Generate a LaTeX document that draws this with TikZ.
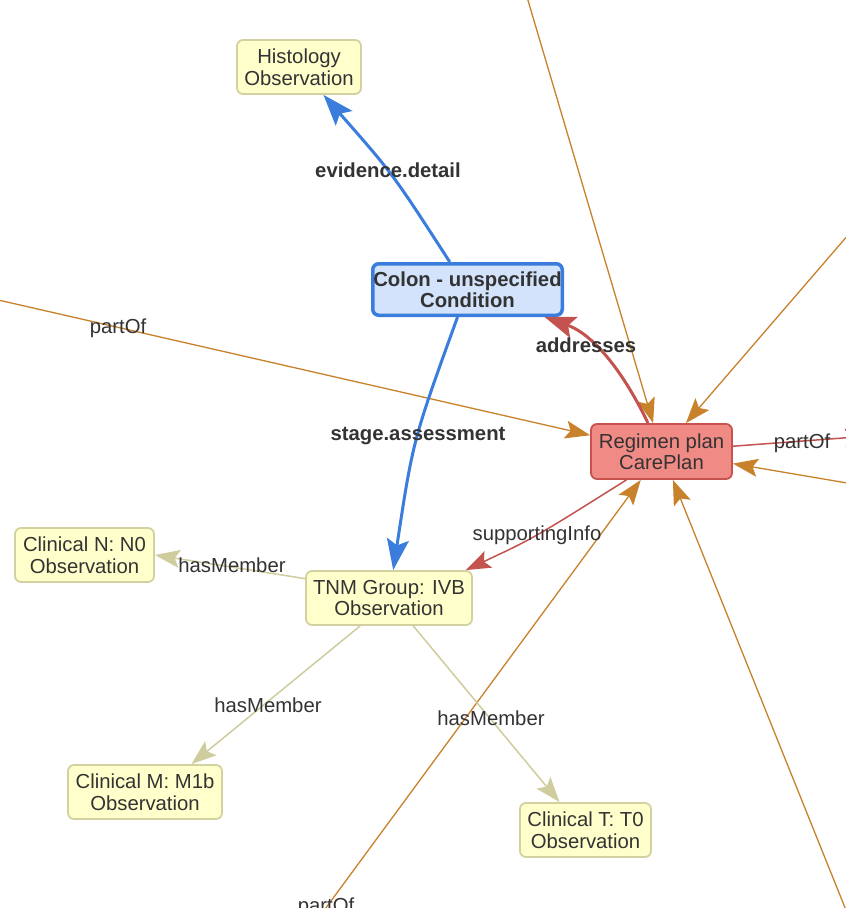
\documentclass[tikz,border=0pt]{standalone}
\usepackage{fontspec}
\setmainfont{Liberation Sans}
\usetikzlibrary{arrows.meta}
\definecolor{txt}{HTML}{333333}
\definecolor{yfill}{HTML}{FFFFCC}
\definecolor{yline}{HTML}{D3D19F}
\definecolor{bfill}{HTML}{D2E3FB}
\definecolor{bline}{HTML}{3B7DDD}
\definecolor{rfill}{HTML}{F08A85}
\definecolor{rline}{HTML}{C8524E}
\definecolor{redge}{HTML}{C4524F}
\definecolor{oedge}{HTML}{C8822B}
\definecolor{kedge}{HTML}{CFCC9E}
\tikzset{
  box/.style={rounded corners=6pt, align=center, inner sep=0pt, text=txt,
    font=\fontsize{20.3}{21.5}\selectfont},
  obs/.style={box, fill=yfill, draw=yline, line width=1.8pt, minimum height=54pt},
  cond/.style={box, fill=bfill, draw=bline, line width=3.5pt, font=\fontsize{20.3}{21.5}\selectfont\bfseries},
  plan/.style={box, fill=rfill, draw=rline, line width=1.8pt},
  lbl/.style={font=\fontsize{20.3}{22}\selectfont, text=txt, inner sep=0pt},
  blbl/.style={lbl, font=\fontsize{20.3}{22}\selectfont\bfseries},
  smalltip/.style={-{Stealth[length=25pt,width=18pt,inset=5pt]}},
  bigtip/.style={-{Stealth[length=31pt,width=22pt,inset=6pt]}},
  blueedge/.style={draw=bline, fill=none, line width=3pt, bigtip},
  redthick/.style={draw=redge, line width=3pt, bigtip},
  redthin/.style={draw=redge, line width=1.5pt, smalltip},
  khaki/.style={draw=kedge, line width=1.5pt, smalltip},
  oline/.style={draw=oedge, line width=1.3pt, smalltip},
}
\begin{document}
\begin{tikzpicture}[x=1pt,y=-1pt]
\useasboundingbox (0,0) rectangle (846,908);
\clip (0,0) rectangle (846,908);
\fill[white] (0,0) rectangle (846,908);

% nodes
\node[obs, minimum width=124pt] (histo) at (299,67) {Histology\\Observation};
\node[cond, minimum width=189.5pt, minimum height=51.5pt] (colon) at (467.5,289.5) {Colon - unspecified\\Condition};
\node[plan, minimum width=141pt, minimum height=55pt] (reg) at (661.5,451.5) {Regimen plan\\CarePlan};
\node[obs, minimum width=166pt] (tnm) at (389,598) {TNM Group: IVB\\Observation};
\node[obs, minimum width=139pt] (cn) at (84.5,555) {Clinical N: N0\\Observation};
\node[obs, minimum width=154pt] (cm) at (145,792) {Clinical M: M1b\\Observation};
\node[obs, minimum width=131pt] (ct) at (585.5,830) {Clinical T: T0\\Observation};

% off-screen ends
\coordinate (o1) at (-50,289);
\coordinate (o2) at (519,-30);
\coordinate (o3) at (880,198);
\coordinate (o4) at (900,492);
\coordinate (o5) at (317,920);
\coordinate (o6) at (858,940);
\coordinate (r1) at (870,436);

% orange partOf edges
\draw[oline] (o1) -- (reg) node[lbl] (lp1) at (118,328) {partOf};
\draw[oline] (o2) -- (reg);
\draw[oline] (o3) -- (reg);
\draw[oline] (o4) -- (reg);
\draw[oline] (o5) -- (reg) node[lbl] (lp2) at (326,907) {partOf};
\draw[oline] (o6) -- (reg);
\draw[redthin] (reg) -- (r1) node[lbl] (lp3) at (802,443) {partOf};

% blue edges
\draw[blueedge] (colon) .. controls (393,174) .. (histo)
  node[blbl] (le1) at (388,170) {evidence.detail};
\draw[blueedge] (colon) .. controls (413,440) .. (tnm)
  node[blbl] (le2) at (418,436) {stage.assessment};

% red edges
\draw[redthick] (reg) .. controls (625,375) and (595,335) .. (colon)
  node[blbl] (le3) at (586,345) {addresses};
\draw[redthin] (reg.219) .. controls (534,538) .. (tnm.20)
  node[lbl] (le4) at (537,535) {supportingInfo};

% khaki hasMember edges
\draw[khaki] (tnm.167) -- (cn.east) node[lbl] (lh1) at (232,565) {hasMember};
\draw[khaki] (tnm.224) -- (cm.31) node[lbl] (lh2) at (268,705) {hasMember};
\draw[khaki] (tnm.-49) -- (ct.133) node[lbl] (lh3) at (491,718) {hasMember};
\end{tikzpicture}
\end{document}
